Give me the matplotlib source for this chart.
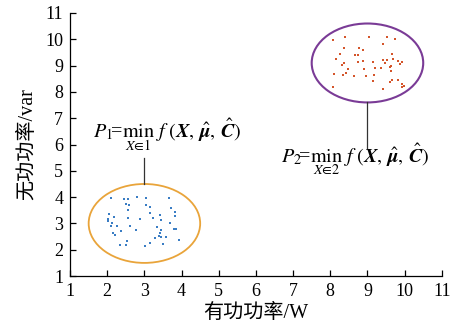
import matplotlib
matplotlib.use('Agg')
import matplotlib.pyplot as plt
from matplotlib.patches import Ellipse

# ============== Data ==============
# cluster 1 (blue points)
X1 = [2.10, 2.46, 2.55, 2.80, 3.04, 3.67, 2.51, 2.58, 3.05, 3.14,
      3.71, 2.55, 3.16, 3.81, 3.81, 3.43, 2.04, 2.17, 3.24, 3.45,
      2.02, 2.01, 2.56, 2.89, 2.12, 2.10, 2.25, 2.62, 3.35, 3.69,
      2.78, 3.45, 3.80, 3.86, 2.37, 2.16, 2.21, 3.41, 3.38, 3.28,
      3.45, 3.57, 2.53, 2.33, 2.51, 3.15, 3.02, 3.50, 3.92]
Y1 = [3.98, 3.93, 3.92, 4.00, 3.97, 3.97, 3.75, 3.71, 3.69, 3.64,
      3.59, 3.51, 3.40, 3.42, 3.29, 3.32, 3.36, 3.24, 3.22, 3.13,
      3.17, 3.08, 3.21, 3.16, 3.00, 2.91, 2.89, 2.91, 2.87, 3.03,
      2.76, 2.75, 2.79, 2.79, 2.70, 2.65, 2.55, 2.63, 2.52, 2.46,
      2.47, 2.48, 2.32, 2.19, 2.18, 2.25, 2.13, 2.23, 2.37]

# cluster 2 (red points)
X2 = [8.08, 8.40, 9.05, 9.53, 9.73, 9.43, 8.37, 8.77, 8.88, 8.27,
      8.66, 8.75, 9.66, 8.15, 9.42, 9.53, 9.68, 9.82, 9.93, 9.88,
      8.37, 8.31, 8.74, 8.88, 9.16, 9.47, 9.62, 9.61, 8.47, 8.90,
      9.19, 9.37, 9.62, 8.10, 8.42, 8.35, 8.63, 8.97, 9.18, 9.66,
      9.83, 9.61, 9.15, 9.94, 9.92, 9.97, 8.07, 9.43]
Y2 = [9.99, 10.09, 10.09, 10.10, 10.01, 9.83, 9.66, 9.67, 9.59, 9.44,
      9.39, 9.41, 9.44, 9.26, 9.20, 9.20, 9.25, 9.17, 9.15, 9.05,
      9.09, 9.04, 9.15, 9.17, 9.14, 9.09, 8.98, 8.94, 8.87, 8.87,
      8.91, 8.90, 8.79, 8.69, 8.72, 8.64, 8.60, 8.59, 8.64, 8.45,
      8.46, 8.36, 8.43, 8.30, 8.20, 8.22, 8.19, 8.11]

# cluster boundaries: centre and size in data units
CENTER1 = (3.0, 3.0)
CENTER2 = (9.0, 9.1)
SIZE = (3.0, 3.0)

TICKS = list(range(1, 12))
XLABEL = '有功功率/W'
YLABEL = '无功功率/var'
ARGS = r'f\ (\boldsymbol{X},\,\hat{\boldsymbol{\mu}},\,\hat{\boldsymbol{C}})$'
LABEL1 = r'$P_1\!$=$\min_{X\in 1}\ ' + ARGS
LABEL2 = r'$P_2\!$=$\min_{X\in 2}\ ' + ARGS

# ============== Style ==============
plt.rcParams['font.family'] = ['Liberation Serif', 'Noto Sans CJK SC']
plt.rcParams['mathtext.fontset'] = 'stix'

BLUE = '#3a7dc4'
RED = '#d4552b'
ORANGE = '#e9a43a'
PURPLE = '#7a3b96'

fig = plt.figure(figsize=(4.55, 3.33), dpi=100)
ax = fig.add_axes([0.154, 0.171, 0.817, 0.790])

ax.scatter(X1, Y1, s=4, marker='s', color=BLUE, linewidths=0)
ax.scatter(X2, Y2, s=4, marker='s', color=RED, linewidths=0)

ax.add_patch(Ellipse(CENTER1, SIZE[0], SIZE[1], fill=False,
                     edgecolor=ORANGE, linewidth=1.3))
ax.add_patch(Ellipse(CENTER2, SIZE[0], SIZE[1], fill=False,
                     edgecolor=PURPLE, linewidth=1.5))

# connector lines from each ellipse to its label
ax.plot([CENTER1[0], CENTER1[0]], [CENTER1[1] + SIZE[1] / 2, 5.49],
        color='#333333', linewidth=0.9)
ax.plot([CENTER2[0], CENTER2[0]], [CENTER2[1] - SIZE[1] / 2, 5.87],
        color='#333333', linewidth=0.9)

ax.text(3.62, 6.40, LABEL1, ha='center', va='center', fontsize=14.5)
ax.text(8.66, 5.45, LABEL2, ha='center', va='center', fontsize=14.5)

ax.set_xlim(1, 11)
ax.set_ylim(1, 11)
ax.set_xticks(TICKS)
ax.set_yticks(TICKS)
ax.tick_params(direction='in', length=4, width=0.9, labelsize=13, pad=5)
for side in ['top', 'right']:
    ax.spines[side].set_visible(False)
for side in ['left', 'bottom']:
    ax.spines[side].set_linewidth(0.9)

ax.set_xlabel(XLABEL, fontsize=14.5, labelpad=3)
ax.set_ylabel(YLABEL, fontsize=14.5, labelpad=6)

fig.savefig('out.png', dpi=100)
